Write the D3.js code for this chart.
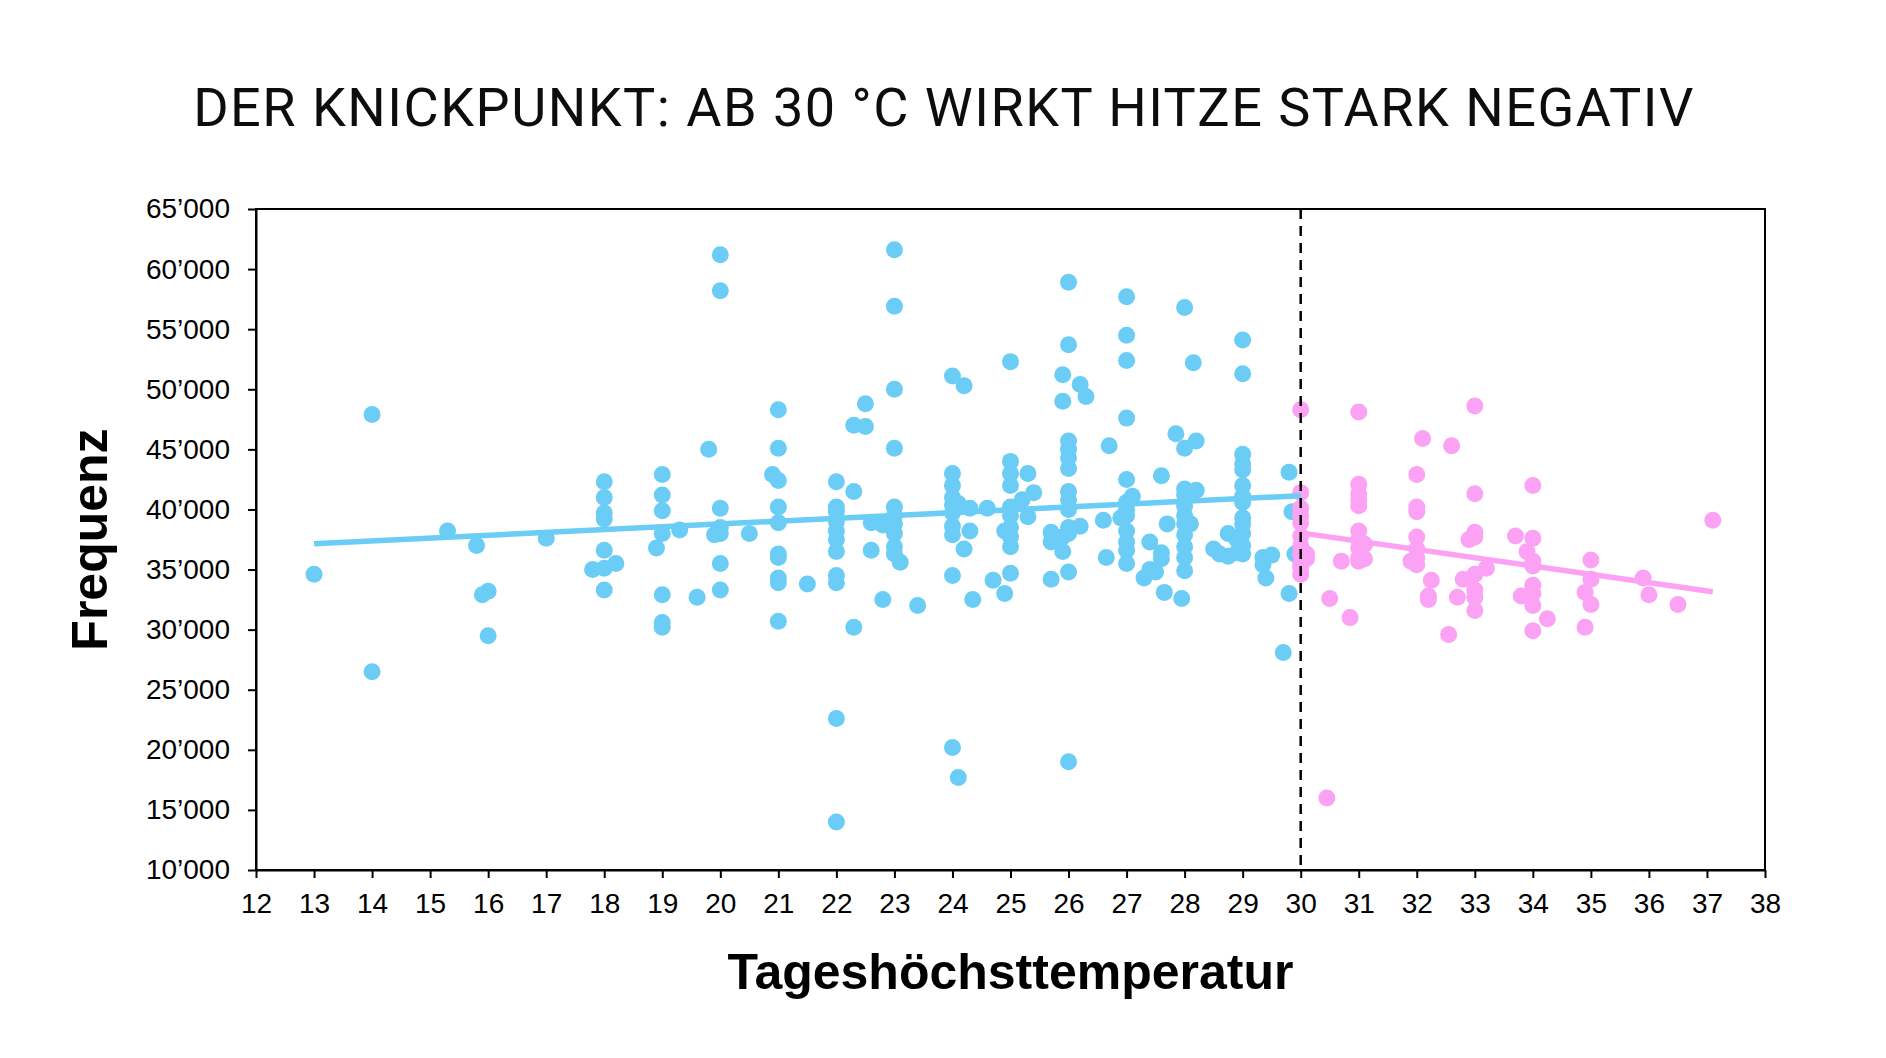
<!DOCTYPE html>
<html>
<head>
<meta charset="utf-8">
<title>Der Knickpunkt</title>
<style>
  body { margin: 0; background: #fff; }
  svg { display: block; }
  .axis text { font-family: "Liberation Sans", Arial, sans-serif; font-size: 28px; fill: #000; }
  .axis line, .axis path { stroke: #000; stroke-width: 2px; }
  .title { font-family: Roboto, "Noto Sans", sans-serif; font-size: 54px; font-weight: 400; letter-spacing: 1.5px; fill: #0d0d0d; }
  .label { font-family: "Liberation Sans", Arial, sans-serif; font-size: 50px; font-weight: bold; fill: #000; }
</style>
</head>
<body>
<svg id="chart" width="1886" height="1058"></svg>
<script src="https://d3js.org/d3.v7.min.js"></script>
<script>
var xTicks = d3.range(12, 39);
var yTicks = [10000, 15000, 20000, 25000, 30000, 35000, 40000, 45000, 50000, 55000, 60000, 65000];

// [Tageshöchsttemperatur, Frequenz] unter 30 °C
var coolDays = [
  [13,34600],
  [14,47900],[14,26500],
  [15.3,38200],[15.8,37000],[15.9,32900],
  [16,33200],[16,29500],
  [17,37600],[17.8,35000],
  [18,42300],[18,41000],[18,39700],[18,39200],[18,36600],[18,35100],[18,33300],
  [18.2,35500],[18.9,36800],
  [19,42900],[19,41200],[19,39900],[19,38000],[19,32900],[19,30600],[19,30200],
  [19.3,38300],[19.6,32700],[19.8,45000],[19.9,37900],
  [20,61200],[20,58200],[20,40100],[20,38500],[20,38000],[20,35500],[20,33300],
  [20.5,38000],[20.9,42900],
  [21,48300],[21,45100],[21,42400],[21,40200],[21,38900],[21,36300],[21,36000],[21,34300],[21,33900],[21,30700],
  [21.5,33800],
  [22,42300],[22,40200],[22,39800],[22,39000],[22,38200],[22,37500],[22,36500],[22,34500],[22,33900],[22,22600],[22,14000],
  [22.3,47000],[22.3,41500],[22.3,30200],
  [22.5,48800],[22.5,46900],
  [22.6,38900],[22.6,36600],
  [22.8,38700],[22.8,32500],
  [23,61600],[23,56900],[23,50000],[23,45100],[23,40200],[23,39500],[23,38800],[23,38000],[23,36900],[23,36300],
  [23.1,35600],[23.4,32000],
  [24,51100],[24,43000],[24,42000],[24,41000],[24,40400],[24,39700],[24,38600],[24,37900],[24,34500],[24,20200],
  [24.1,40500],[24.1,17700],
  [24.2,50300],[24.2,36700],
  [24.3,40100],[24.3,38200],[24.35,32500],
  [24.6,40100],[24.7,34100],
  [24.9,38200],[24.9,33000],
  [25,52300],[25,44000],[25,43000],[25,42000],[25,40200],[25,39500],[25,38500],[25,37700],[25,36900],[25,34700],
  [25.2,40800],[25.3,43000],[25.3,39400],[25.4,41400],
  [25.7,38100],[25.7,37300],[25.7,34200],
  [25.9,51200],[25.9,49000],[25.9,36500],[25.9,37700],
  [26,58900],[26,53700],[26,45700],[26,45000],[26,44300],[26,43400],[26,41500],[26,40800],[26,40000],[26,38500],[26,38000],[26,34800],[26,19000],
  [26.2,50400],[26.2,38600],[26.3,49400],
  [26.6,39100],[26.7,45300],[26.65,36000],[26.9,39300],
  [27,57700],[27,54500],[27,52400],[27,47600],[27,42500],[27,40600],[27,40000],[27,39500],[27,38200],[27,37300],[27,36600],[27,35500],
  [27.1,41100],[27.3,34300],
  [27.4,37300],[27.4,35000],
  [27.6,36400],[27.6,35900],[27.5,34800],[27.6,42800],[27.65,33100],
  [27.7,38800],[27.85,46300],[27.95,32600],
  [28,56800],[28,45100],[28,41700],[28,41200],[28,40300],[28,39500],[28,38800],[28,37900],[28,36900],[28,36000],[28,34900],
  [28.1,38800],[28.15,52200],
  [28.2,45700],[28.2,41600],
  [28.5,36700],[28.6,36300],
  [28.75,38000],[28.75,36100],
  [28.9,36400],[28.9,37500],
  [29,54100],[29,51300],[29,44600],[29,43800],[29,43300],[29,42000],[29,41100],[29,40600],[29,39300],[29,38800],[29,38000],[29,37000],[29,36300],
  [29.35,36000],[29.35,35400],[29.4,34300],[29.5,36200],
  [29.7,28100],
  [29.8,43100],[29.8,33000],[29.85,39800],[29.9,36300]
];

// [Tageshöchsttemperatur, Frequenz] ab 30 °C
var hotDays = [
  [30,48300],[30,41400],[30,40100],[30,39500],[30,38900],[30,37800],[30,37000],[30,36300],[30,35500],[30,35200],[30,34600],
  [30.1,36300],[30.1,35900],
  [30.5,32600],[30.45,16000],
  [30.7,35700],[30.85,31000],
  [31,48100],[31,42100],[31,41300],[31,40800],[31,40300],[31,38200],[31,37500],[31,36800],[31,36000],[31,35700],
  [31.1,37100],[31.1,35900],
  [31.9,35700],
  [32,42900],[32,40200],[32,39800],[32,37700],[32,36700],[32,36000],[32,35400],
  [32.1,45900],
  [32.25,34100],[32.2,32800],[32.2,32500],
  [32.55,29600],[32.6,45300],
  [32.7,32700],[32.8,34200],[32.9,37500],
  [33,48600],[33,41300],[33,38100],[33,37700],[33,34600],[33,33300],[33,32700],[33,31600],
  [33.2,35100],
  [33.7,37800],[33.8,32800],[33.9,36500],
  [34,42000],[34,37600],[34,35700],[34,35300],[34,33700],[34,33000],[34,32000],[34,29900],
  [34.25,30900],
  [34.9,33100],[34.9,30200],
  [35,35800],[35,34200],[35,32100],
  [35.9,34300],[36,32900],[36.5,32100],
  [37.1,39100]
];

// Trendlinien (Endpunkte)
var coolTrend = [[13, 37150], [30, 41150]];
var hotTrend = [[30, 38050], [37.1, 33150]];
var knick = 30;

var coolColor = "#6bcdf6";
var hotColor = "#fca2f4";

var svg = d3.select("#chart");
var plotLeft = 256, plotRight = 1765, plotTop = 209, plotBottom = 870;

var x = d3.scaleLinear().domain([12, 38]).range([plotLeft, plotRight]);
var y = d3.scaleLinear().domain([10000, 65000]).range([plotBottom, plotTop]);

var de = d3.formatLocale({ decimal: ".", thousands: "\u2019", grouping: [3], currency: ["", ""] });
var fmt = de.format(",");

// title
svg.append("text")
  .attr("class", "title")
  .attr("x", 944)
  .attr("y", 126)
  .attr("text-anchor", "middle")
  .text("DER KNICKPUNKT: AB 30 °C WIRKT HITZE STARK NEGATIV");

// axes
svg.append("g")
  .attr("class", "axis")
  .attr("transform", "translate(0," + plotBottom + ")")
  .call(d3.axisBottom(x).tickValues(xTicks).tickSize(8).tickSizeOuter(0).tickPadding(15));

svg.append("g")
  .attr("class", "axis")
  .attr("transform", "translate(" + plotLeft + ",0)")
  .call(d3.axisLeft(y).tickValues(yTicks).tickSize(8).tickSizeOuter(0).tickPadding(18).tickFormat(fmt));

// points
function dots(data, color) {
  svg.append("g")
    .selectAll("circle")
    .data(data)
    .enter()
    .append("circle")
    .attr("cx", function(d) { return x(d[0]); })
    .attr("cy", function(d) { return y(d[1]); })
    .attr("r", 8.5)
    .attr("fill", color);
}
dots(coolDays, coolColor);
dots(hotDays, hotColor);

// trend lines
var line = d3.line()
  .x(function(d) { return x(d[0]); })
  .y(function(d) { return y(d[1]); });

svg.append("path").datum(coolTrend)
  .attr("d", line)
  .attr("fill", "none")
  .attr("stroke", coolColor)
  .attr("stroke-width", 5.5);

svg.append("path").datum(hotTrend)
  .attr("d", line)
  .attr("fill", "none")
  .attr("stroke", hotColor)
  .attr("stroke-width", 5.5);

// Knickpunkt
svg.append("line")
  .attr("x1", x(knick)).attr("x2", x(knick))
  .attr("y1", y(65000)).attr("y2", y(10000))
  .attr("stroke", "#000")
  .attr("stroke-width", 2.5)
  .attr("stroke-dasharray", "10,7");

// frame
svg.append("rect")
  .attr("x", plotLeft).attr("y", plotTop)
  .attr("width", plotRight - plotLeft).attr("height", plotBottom - plotTop)
  .attr("fill", "none")
  .attr("stroke", "#000")
  .attr("stroke-width", 2);

// axis labels
svg.append("text")
  .attr("class", "label")
  .attr("x", (plotLeft + plotRight) / 2)
  .attr("y", 989)
  .attr("text-anchor", "middle")
  .text("Tageshöchsttemperatur");

svg.append("text")
  .attr("class", "label")
  .attr("transform", "translate(107," + ((plotTop + plotBottom) / 2) + ") rotate(-90)")
  .attr("text-anchor", "middle")
  .text("Frequenz");
</script>
</body>
</html>
